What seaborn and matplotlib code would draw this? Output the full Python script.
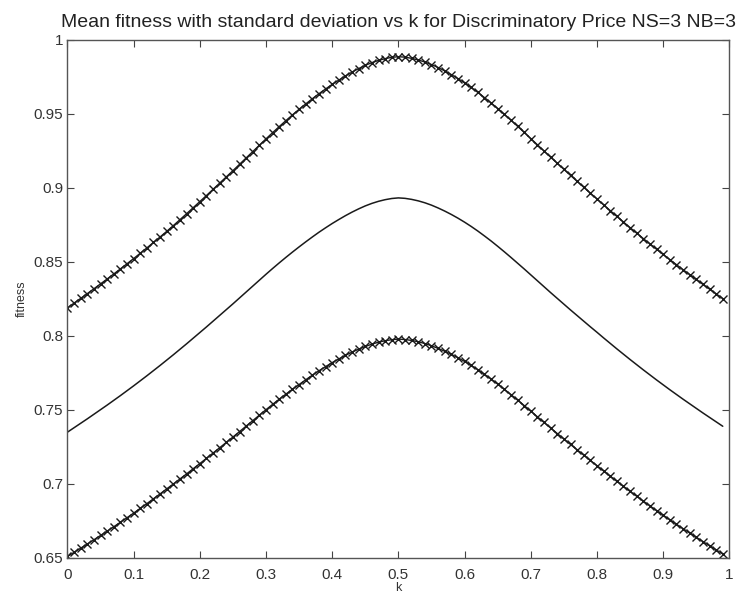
import numpy as np
import pandas as pd
import seaborn as sns
import matplotlib.pyplot as plt

# k values 0 .. 0.99 in steps of 0.01
k_values = [i / 100 for i in range(100)]

# mean fitness
fitness_mean = [
    0.7350, 0.7380, 0.7410, 0.7440, 0.7471, 0.7502, 0.7533, 0.7565, 0.7597, 0.7630,
    0.7663, 0.7697, 0.7731, 0.7766, 0.7801, 0.7837, 0.7873, 0.7910, 0.7947, 0.7985,
    0.8023, 0.8061, 0.8100, 0.8139, 0.8178, 0.8217, 0.8257, 0.8297, 0.8337, 0.8377,
    0.8417, 0.8456, 0.8494, 0.8531, 0.8567, 0.8602, 0.8636, 0.8669, 0.8701, 0.8731,
    0.8760, 0.8787, 0.8813, 0.8837, 0.8859, 0.8879, 0.8896, 0.8910, 0.8921, 0.8929,
    0.8933, 0.8930, 0.8923, 0.8913, 0.8900, 0.8884, 0.8865, 0.8844, 0.8821, 0.8796,
    0.8769, 0.8740, 0.8709, 0.8676, 0.8642, 0.8606, 0.8569, 0.8531, 0.8492, 0.8453,
    0.8413, 0.8373, 0.8333, 0.8293, 0.8254, 0.8215, 0.8176, 0.8138, 0.8100, 0.8062,
    0.8025, 0.7987, 0.7950, 0.7913, 0.7877, 0.7841, 0.7806, 0.7771, 0.7737, 0.7703,
    0.7670, 0.7637, 0.7605, 0.7573, 0.7542, 0.7511, 0.7480, 0.7450, 0.7420, 0.7390,
]

# standard deviation (half the gap between the two marked curves)
fitness_std = [
    0.0840, 0.0842, 0.0844, 0.0846, 0.0848, 0.0850, 0.0852, 0.0854, 0.0856, 0.0858,
    0.0860, 0.0862, 0.0864, 0.0866, 0.0868, 0.0870, 0.0873, 0.0876, 0.0879, 0.0882,
    0.0885, 0.0888, 0.0891, 0.0894, 0.0897, 0.0900, 0.0903, 0.0906, 0.0909, 0.0912,
    0.0915, 0.0918, 0.0921, 0.0924, 0.0927, 0.0930, 0.0932, 0.0934, 0.0936, 0.0938,
    0.0940, 0.0942, 0.0944, 0.0946, 0.0948, 0.0950, 0.0951, 0.0952, 0.0953, 0.0954,
    0.0954, 0.0954, 0.0953, 0.0952, 0.0951, 0.0950, 0.0949, 0.0947, 0.0945, 0.0943,
    0.0941, 0.0939, 0.0937, 0.0935, 0.0933, 0.0931, 0.0929, 0.0927, 0.0925, 0.0923,
    0.0921, 0.0919, 0.0917, 0.0915, 0.0913, 0.0911, 0.0909, 0.0907, 0.0905, 0.0903,
    0.0901, 0.0899, 0.0897, 0.0895, 0.0893, 0.0891, 0.0889, 0.0887, 0.0885, 0.0883,
    0.0881, 0.0879, 0.0877, 0.0875, 0.0873, 0.0871, 0.0869, 0.0867, 0.0865, 0.0863,
]

x_ticks = [0, 0.1, 0.2, 0.3, 0.4, 0.5, 0.6, 0.7, 0.8, 0.9, 1]
x_tick_labels = ['0', '0.1', '0.2', '0.3', '0.4', '0.5', '0.6', '0.7', '0.8', '0.9', '1']
y_ticks = [0.65, 0.7, 0.75, 0.8, 0.85, 0.9, 0.95, 1]
y_tick_labels = ['0.65', '0.7', '0.75', '0.8', '0.85', '0.9', '0.95', '1']

df = pd.DataFrame({'k': k_values, 'mean': fitness_mean, 'std': fitness_std})
df['upper'] = df['mean'] + df['std']
df['lower'] = df['mean'] - df['std']

sns.set_style('ticks')
plt.rcParams['font.family'] = ['Liberation Sans', 'DejaVu Sans']

fig = plt.figure(figsize=(7.36, 5.96), dpi=100)
ax = fig.add_axes([0.0916, 0.0638, 0.8994, 0.8691])

line_col = '#1a1a1a'
sns.lineplot(data=df, x='k', y='upper', ax=ax, color=line_col, linewidth=1.0,
             marker='x', markersize=6, markeredgewidth=1.0, markeredgecolor=line_col)
sns.lineplot(data=df, x='k', y='mean', ax=ax, color=line_col, linewidth=1.1)
sns.lineplot(data=df, x='k', y='lower', ax=ax, color=line_col, linewidth=1.0,
             marker='x', markersize=6, markeredgewidth=1.0, markeredgecolor=line_col)

ax.set_xlim(0, 1)
ax.set_ylim(0.65, 1)
ax.set_xticks(x_ticks)
ax.set_xticklabels(x_tick_labels)
ax.set_yticks(y_ticks)
ax.set_yticklabels(y_tick_labels)
ax.tick_params(direction='in', top=True, right=True, length=5, width=0.8,
               labelsize=11, colors='#444444', labelcolor='#333333')
ax.tick_params(axis='x', pad=7)
ax.tick_params(axis='y', pad=3)
for s in ax.spines.values():
    s.set_color('#555555')
    s.set_linewidth(1.0)

ax.set_title('Mean fitness with standard deviation vs k for Discriminatory Price NS=3 NB=3',
             fontsize=14, color='#222222', pad=9)
ax.set_xlabel('k', fontsize=9, color='#333333', labelpad=0)
ax.set_ylabel('fitness', fontsize=9, color='#333333', labelpad=4)

plt.savefig('out.png', dpi=100)
plt.close()
